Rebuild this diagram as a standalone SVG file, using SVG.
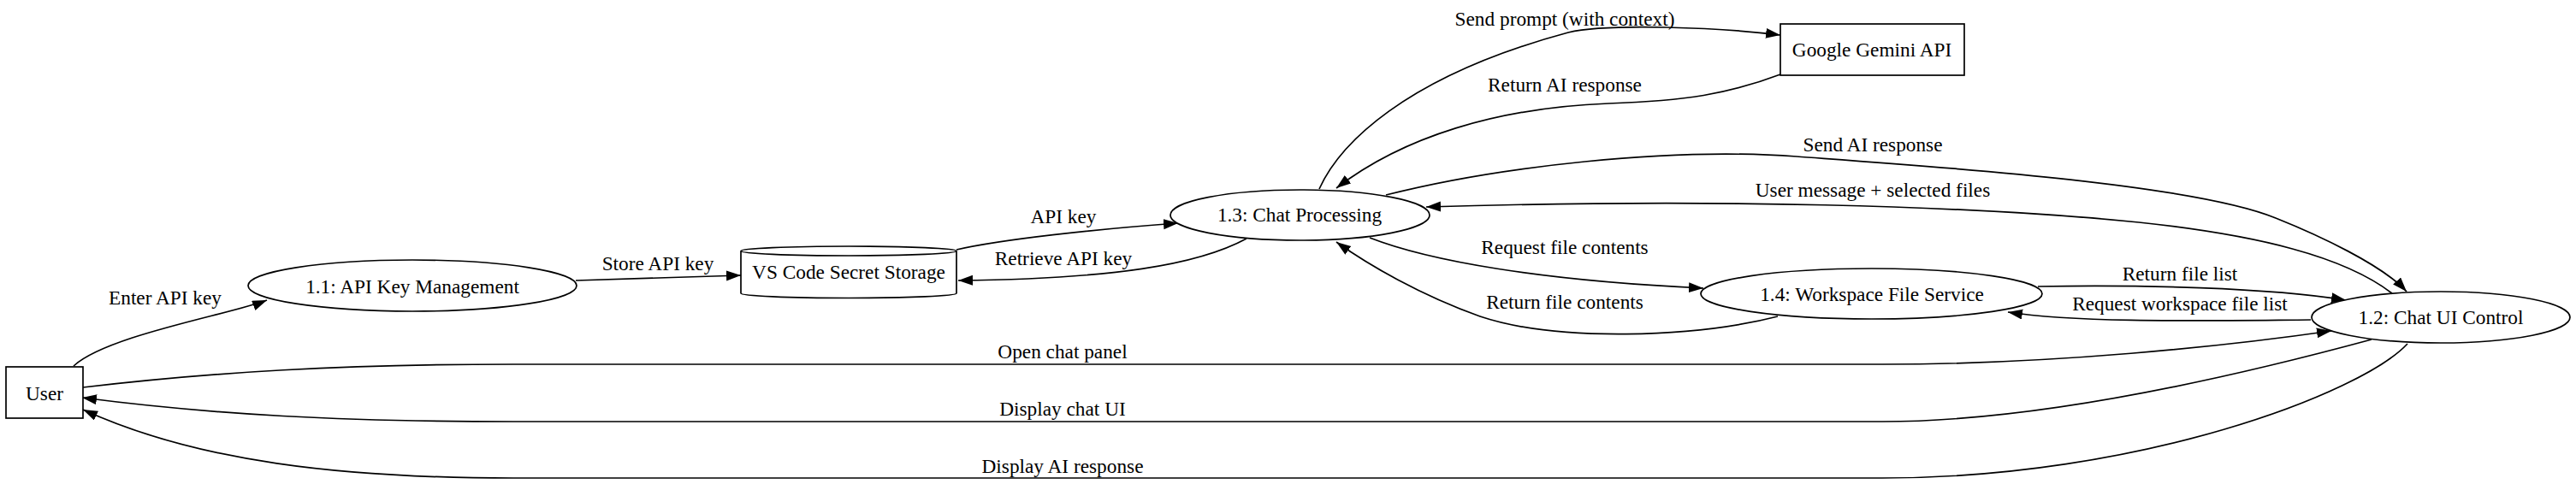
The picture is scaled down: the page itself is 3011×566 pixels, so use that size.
<svg xmlns="http://www.w3.org/2000/svg" width="3011" height="566" viewBox="0 0 3011 566">
<style>
text{font-family:"Liberation Serif","Times New Roman",serif;font-size:23.3px;fill:#000;text-anchor:middle}
.n{fill:#fff;stroke:#000;stroke-width:1.7}
.e{fill:none;stroke:#000;stroke-width:1.7;marker-end:url(#ah)}
</style>
<defs>
<marker id="ah" markerUnits="userSpaceOnUse" markerWidth="18" markerHeight="13" refX="17" refY="6" orient="auto">
<path d="M0,0 L17,6 L0,12 Z" fill="#000"/>
</marker>
</defs>
<rect width="3011" height="566" fill="#fff"/>
<g id="connectors">
<path class="e" d="M86,428 C125,392 272,367 312,351"/>
<text x="193" y="356">Enter API key</text>
<path class="e" d="M673,328 C740,326 800,324 866,322"/>
<text x="769" y="316">Store API key</text>
<path class="e" d="M1118,292 C1170,280 1280,268 1377,261"/>
<text x="1243" y="261">API key</text>
<path class="e" d="M1457,279 C1400,310 1300,326 1120,328"/>
<text x="1243" y="310">Retrieve API key</text>
<path class="e" d="M1542,221 C1565,170 1640,90 1833,38 C1880,27 2010,32 2081,41"/>
<text x="1829" y="30">Send prompt (with context)</text>
<path class="e" d="M2081,87 C2020,110 1970,118 1880,121 C1750,126 1640,160 1562,220"/>
<text x="1829" y="107">Return AI response</text>
<path class="e" d="M1620,228 C1750,195 1950,172 2100,183 C2250,194 2560,214 2660,255 C2710,275 2785,310 2813,341"/>
<text x="2189" y="177">Send AI response</text>
<path class="e" d="M2796,343 C2740,300 2640,275 2500,260 C2300,240 2000,232 1667,242"/>
<text x="2189" y="230">User message + selected files</text>
<path class="e" d="M1601,278 C1670,305 1800,328 1991,337"/>
<text x="1829" y="297">Request file contents</text>
<path class="e" d="M2078,370 C1980,395 1820,400 1730,370 C1660,345 1600,310 1562,283"/>
<text x="1829" y="361">Return file contents</text>
<path class="e" d="M2382,335 C2500,333 2650,336 2742,351"/>
<text x="2548" y="328">Return file list</text>
<path class="e" d="M2701,374 C2580,375 2430,378 2347,365"/>
<text x="2548" y="363">Request workspace file list</text>
<path class="e" d="M97,453 C250,435 400,426 600,426 L2200,426 C2400,426 2600,405 2725,387"/>
<text x="1242" y="419">Open chat panel</text>
<path class="e" d="M2772,397 C2650,430 2400,493 2200,493 L600,493 C400,493 250,485 96,465"/>
<text x="1242" y="486">Display chat UI</text>
<path class="e" d="M2814,402 C2760,460 2500,559 2200,559 L600,559 C400,559 230,540 97,479"/>
<text x="1242" y="553">Display AI response</text>
</g>
<g id="user">
<rect class="n" x="7" y="429" width="90" height="60"/>
<text x="52" y="468">User</text>
</g>
<g id="p11">
<ellipse class="n" cx="482" cy="334" rx="192" ry="30"/>
<text x="482" y="343">1.1: API Key Management</text>
</g>
<g id="secret">
<path class="n" d="M866,293.5 A126,5.5 0 0 0 1118,293.5 A126,5.5 0 0 0 866,293.5 L866,343 A126,5.5 0 0 0 1118,343 L1118,293.5"/>
<text x="992" y="326">VS Code Secret Storage</text>
</g>
<g id="p13">
<ellipse class="n" cx="1519.5" cy="251.5" rx="151.5" ry="29.5"/>
<text x="1519" y="259">1.3: Chat Processing</text>
</g>
<g id="gemini">
<rect class="n" x="2081" y="28" width="215" height="60"/>
<text x="2188" y="66">Google Gemini API</text>
</g>
<g id="p14">
<ellipse class="n" cx="2187.5" cy="343.5" rx="199.5" ry="29.5"/>
<text x="2188" y="352">1.4: Workspace File Service</text>
</g>
<g id="p12">
<ellipse class="n" cx="2853" cy="371" rx="151" ry="30"/>
<text x="2853" y="379">1.2: Chat UI Control</text>
</g>
</svg>
